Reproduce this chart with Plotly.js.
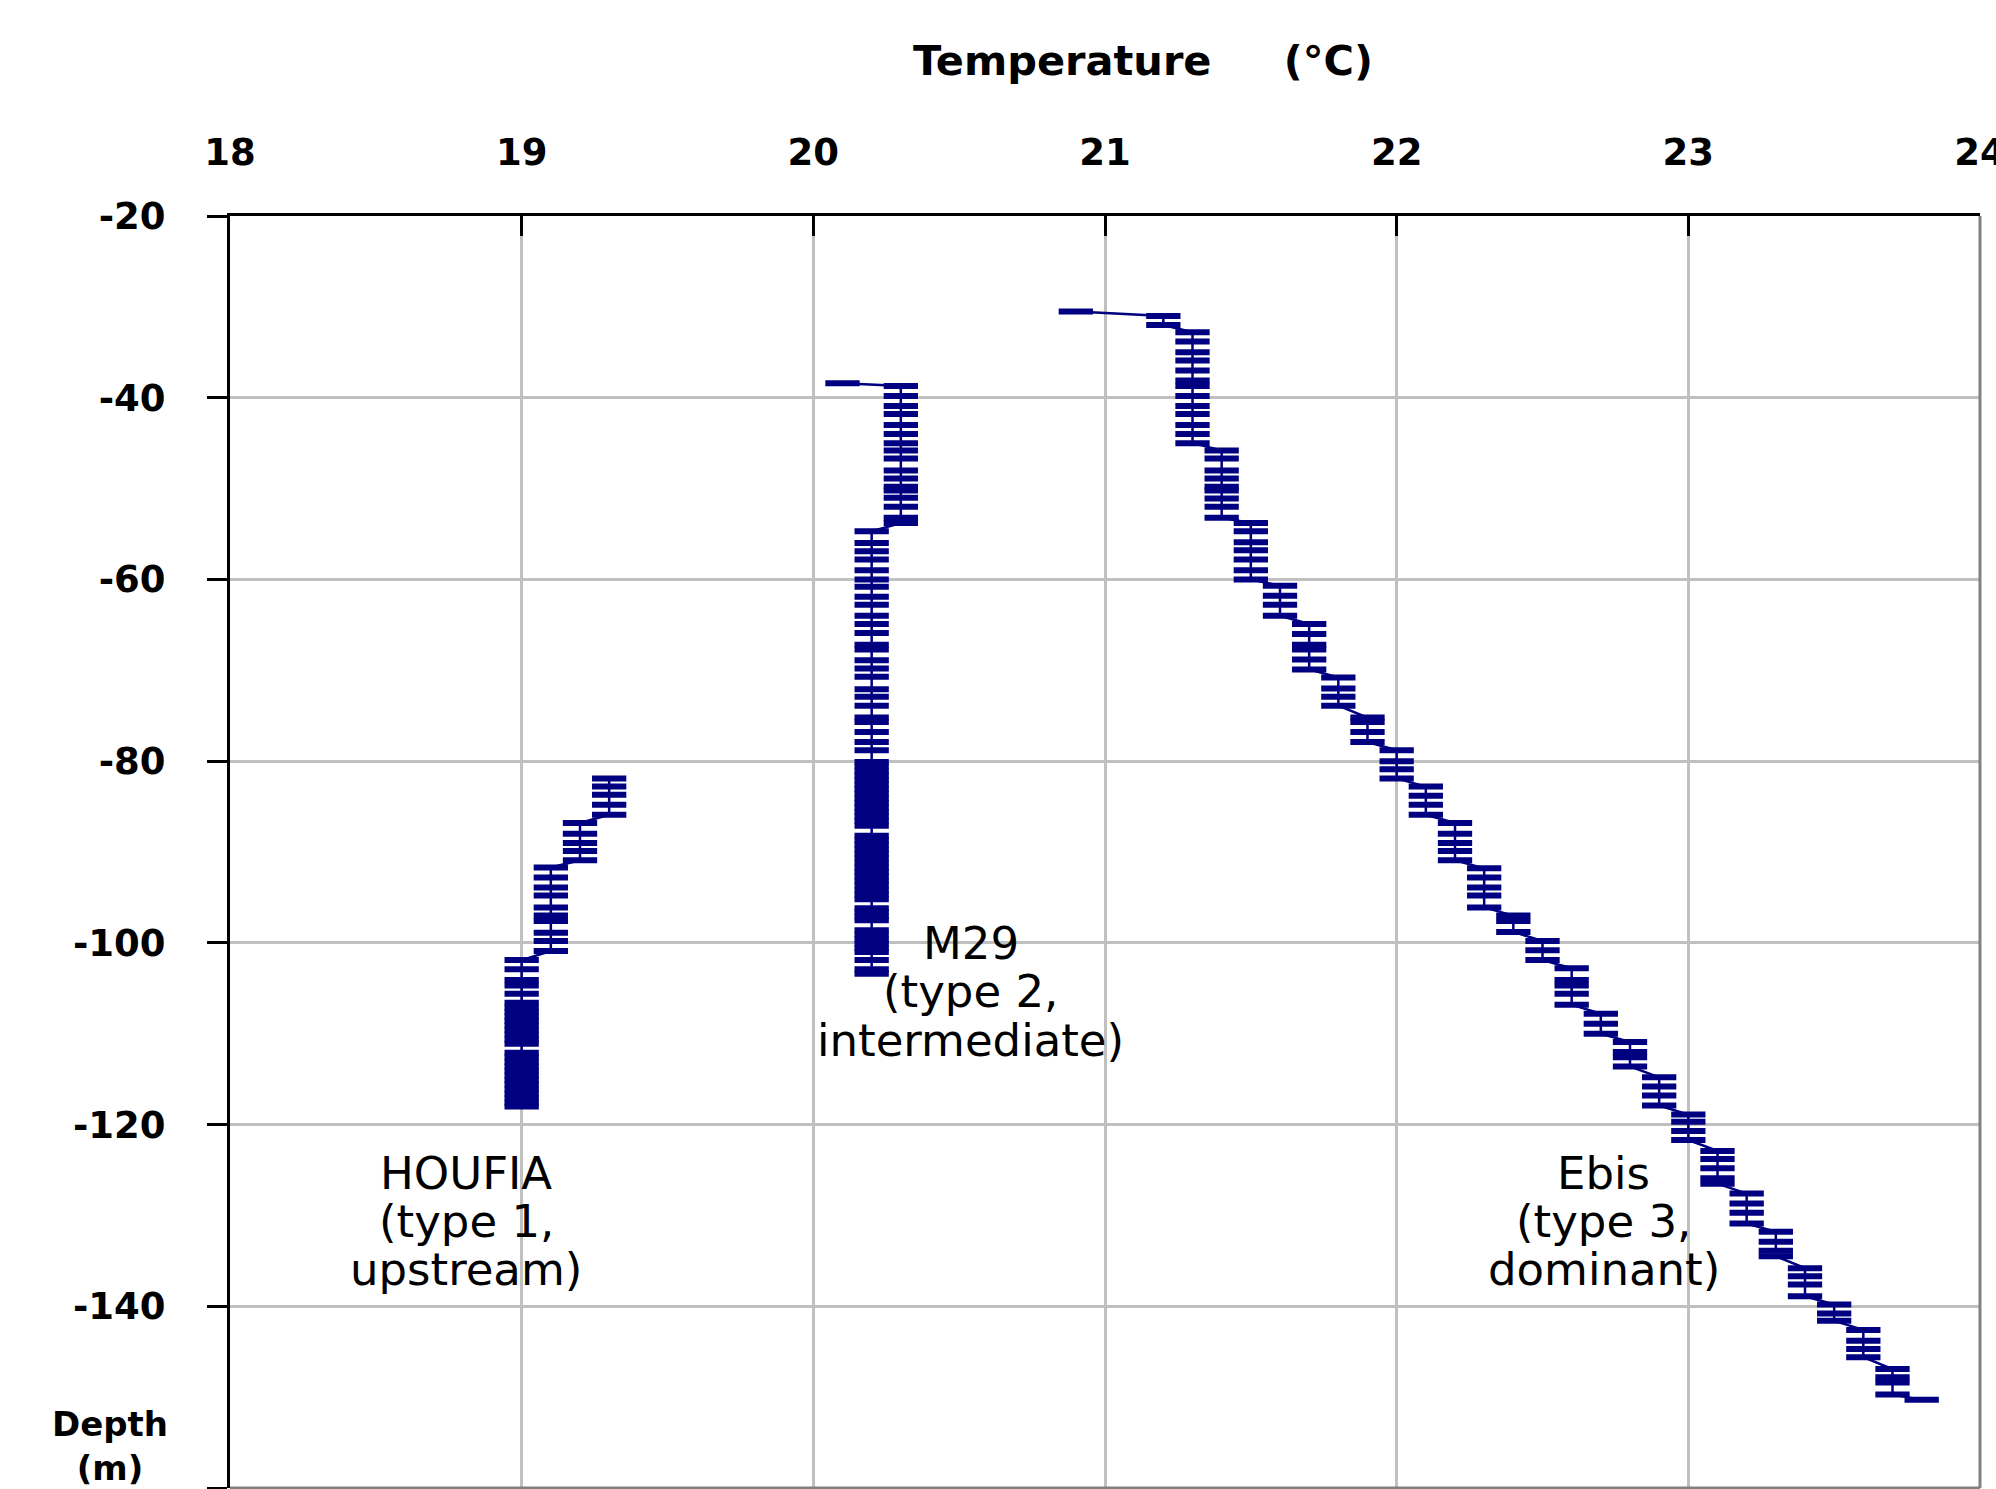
<!DOCTYPE html>
<html>
<head>
<meta charset="utf-8">
<script src="https://cdn.plot.ly/plotly-3.0.1.min.js"></script>
<style>
  html, body { margin: 0; padding: 0; background: #ffffff; }
  #chart { width: 1996px; height: 1489px; }
</style>
</head>
<body>
<div id="chart"></div>
<script>
// ---------------- data (temperature in °C, depth in m) ----------------
const houfiaTemp = [
  19.3, 19.3, 19.3, 19.3, 19.3,
  19.2, 19.2, 19.2, 19.2, 19.2,
  19.1, 19.1, 19.1, 19.1, 19.1, 19.1, 19.1, 19.1, 19.1, 19.1,
  19.0, 19.0, 19.0, 19.0, 19.0,
  19.0, 19.0, 19.0, 19.0, 19.0, 19.0, 19.0, 19.0, 19.0, 19.0,
  19.0, 19.0, 19.0, 19.0, 19.0, 19.0, 19.0, 19.0, 19.0, 19.0, 19.0, 19.0, 19.0
];
const houfiaDepth = [
  -81.9, -82.8, -83.7, -84.8, -85.9,
  -86.8, -88.0, -89.0, -89.9, -90.9,
  -91.7, -92.8, -93.9, -94.8, -96.1, -97.0, -97.6, -98.9, -99.8, -100.9,
  -101.9, -102.9, -104.1, -104.7, -105.6,
  -106.6, -107.1, -107.6, -108.1, -108.6, -109.1, -109.6, -110.1, -110.6, -111.1,
  -112.1, -112.6, -113.1, -113.6, -114.1, -114.6, -115.1, -115.6, -116.1, -116.6, -117.1, -117.6, -118.0
];

const m29Temp = [
  20.1,
  20.3, 20.3, 20.3, 20.3, 20.3, 20.3, 20.3, 20.3, 20.3, 20.3, 20.3, 20.3, 20.3, 20.3, 20.3, 20.3, 20.3,
  20.2, 20.2, 20.2, 20.2, 20.2, 20.2, 20.2, 20.2, 20.2, 20.2, 20.2, 20.2, 20.2, 20.2, 20.2, 20.2, 20.2,
  20.2, 20.2, 20.2, 20.2, 20.2, 20.2, 20.2, 20.2,
  20.2, 20.2, 20.2, 20.2, 20.2, 20.2, 20.2, 20.2, 20.2, 20.2, 20.2, 20.2, 20.2, 20.2, 20.2,
  20.2, 20.2, 20.2, 20.2, 20.2, 20.2, 20.2, 20.2, 20.2, 20.2, 20.2, 20.2, 20.2, 20.2, 20.2,
  20.2, 20.2, 20.2, 20.2,
  20.2, 20.2, 20.2, 20.2, 20.2, 20.2,
  20.2, 20.2, 20.2
];
const m29Depth = [
  -38.4,
  -38.7, -39.8, -40.9, -41.8, -43.0, -44.0, -45.0, -45.8, -46.7, -48.0, -48.9, -49.8, -50.2, -51.0, -52.0, -53.2, -53.8,
  -54.7, -56.0, -56.9, -57.8, -59.0, -60.0, -60.8, -61.9, -62.8, -64.0, -64.9, -65.9, -67.2, -67.7, -68.9, -69.8, -70.7,
  -72.1, -72.9, -73.9, -75.2, -75.7, -76.8, -77.9, -78.8,
  -80.1, -80.6, -81.1, -81.6, -82.1, -82.6, -83.1, -83.6, -84.1, -84.6, -85.1, -85.6, -86.1, -86.6, -87.1,
  -88.2, -88.7, -89.2, -89.7, -90.2, -90.7, -91.2, -91.7, -92.2, -92.7, -93.2, -93.7, -94.2, -94.7, -95.2,
  -96.2, -96.6, -97.1, -97.5,
  -98.6, -99.1, -99.6, -100.1, -100.6, -101.0,
  -101.9, -102.9, -103.4
];

const ebisTemp = [
  20.9,
  21.2, 21.2,
  21.3, 21.3, 21.3, 21.3, 21.3, 21.3, 21.3, 21.3, 21.3, 21.3, 21.3, 21.3, 21.3,
  21.4, 21.4, 21.4, 21.4, 21.4, 21.4, 21.4, 21.4, 21.4,
  21.5, 21.5, 21.5, 21.5, 21.5, 21.5, 21.5,
  21.6, 21.6, 21.6, 21.6,
  21.7, 21.7, 21.7, 21.7, 21.7, 21.7,
  21.8, 21.8, 21.8, 21.8,
  21.9, 21.9, 21.9, 21.9,
  22.0, 22.0, 22.0, 22.0,
  22.1, 22.1, 22.1, 22.1,
  22.2, 22.2, 22.2, 22.2, 22.2,
  22.3, 22.3, 22.3, 22.3, 22.3,
  22.4, 22.4, 22.4,
  22.5, 22.5, 22.5,
  22.6, 22.6, 22.6, 22.6, 22.6,
  22.7, 22.7, 22.7,
  22.8, 22.8, 22.8, 22.8,
  22.9, 22.9, 22.9, 22.9,
  23.0, 23.0, 23.0, 23.0,
  23.1, 23.1, 23.1, 23.1, 23.1,
  23.2, 23.2, 23.2, 23.2,
  23.3, 23.3, 23.3, 23.3,
  23.4, 23.4, 23.4, 23.4,
  23.5, 23.5, 23.5,
  23.6, 23.6, 23.6, 23.6,
  23.7, 23.7, 23.7, 23.7,
  23.8
];
const ebisDepth = [
  -30.5,
  -31.0, -32.0,
  -32.8, -33.8, -35.0, -35.9, -37.0, -38.1, -38.7, -39.8, -40.9, -41.8, -43.0, -44.0, -45.0,
  -45.8, -46.7, -48.0, -48.9, -49.8, -50.2, -51.1, -52.0, -53.2,
  -53.8, -54.7, -55.9, -56.8, -57.8, -59.0, -60.0,
  -60.7, -61.8, -62.8, -64.0,
  -64.9, -66.0, -67.2, -67.7, -68.8, -69.9,
  -70.8, -72.0, -72.9, -73.9,
  -75.2, -75.7, -76.8, -77.9,
  -78.8, -80.0, -80.9, -81.9,
  -82.8, -83.8, -84.8, -85.9,
  -86.8, -88.0, -89.0, -89.9, -90.9,
  -91.8, -92.8, -93.9, -94.8, -96.1,
  -97.0, -97.6, -98.8,
  -99.8, -100.8, -101.9,
  -102.8, -104.1, -104.7, -105.6, -106.8,
  -107.8, -108.9, -110.0,
  -110.9, -112.0, -112.6, -113.6,
  -114.8, -115.8, -116.8, -117.9,
  -118.9, -119.7, -120.7, -121.7,
  -122.9, -123.8, -124.8, -125.9, -126.5,
  -127.6, -128.7, -129.7, -130.9,
  -131.8, -132.9, -133.9, -134.5,
  -135.8, -136.7, -137.6, -138.9,
  -139.8, -140.8, -141.6,
  -142.6, -143.8, -144.7, -145.6,
  -146.9, -147.8, -148.4, -149.7,
  -150.3
];

const seriesNames = ['HOUFIA', 'M29', 'Ebis'];
const labelLines = {
  HOUFIA: ['HOUFIA', '(type 1,', 'upstream)'],
  M29: ['M29', '(type 2,', 'intermediate)'],
  Ebis: ['Ebis', '(type 3,', 'dominant)']
};

const xTickVals = [18, 19, 20, 21, 22, 23, 24];
const xTickText = ['18', '19', '20', '21', '22', '23', '24'];
const yTickVals = [-20, -40, -60, -80, -100, -120, -140, -160];
const yTickText = ['-20', '-40', '-60', '-80', '-100', '-120', '-140', ''];

const xTitle = 'Temperature\u00A0\u00A0\u00A0\u00A0\u00A0(°C)';
const yTitle = 'Depth<br>(m)';

// ---------------- styling ----------------
const NAVY = '#000080';
const FONT = 'DejaVu Sans, Verdana, Arial, sans-serif';

function profileTrace(name, x, y) {
  return {
    type: 'scatter',
    mode: 'lines+markers',
    name: name,
    x: x,
    y: y,
    line: { color: NAVY, width: 2.5 },
    marker: {
      symbol: 'line-ew',
      size: 24.5,
      color: NAVY,
      line: { color: NAVY, width: 6 }
    },
    hoverinfo: 'x+y+name'
  };
}

const traces = [
  profileTrace(seriesNames[0], houfiaTemp, houfiaDepth),
  profileTrace(seriesNames[1], m29Temp, m29Depth),
  profileTrace(seriesNames[2], ebisTemp, ebisDepth)
];

// label placement (data coordinates for centre of each text line)
const labelPos = {
  HOUFIA: { x: 18.81, y: [-125.4, -130.7, -135.9] },
  M29: { x: 20.54, y: [-100.1, -105.4, -110.7] },
  Ebis: { x: 22.71, y: [-125.4, -130.7, -135.9] }
};

const annotations = [];
seriesNames.forEach(function (n) {
  labelLines[n].forEach(function (t, i) {
    annotations.push({
      xref: 'x', yref: 'y',
      x: labelPos[n].x, y: labelPos[n].y[i],
      text: t, showarrow: false,
      xanchor: 'center', yanchor: 'middle',
      font: { family: FONT, size: 45, color: '#000000' }
    });
  });
});

annotations.push({
  xref: 'paper', yref: 'paper',
  x: 0.5217, y: 1.1219,
  text: xTitle, showarrow: false,
  xanchor: 'center', yanchor: 'middle',
  font: { family: FONT, size: 41.5, color: '#000000', weight: 'bold' }
});
annotations.push({
  xref: 'paper', yref: 'paper',
  x: -0.0686, y: 0.033,
  text: yTitle, showarrow: false,
  xanchor: 'center', yanchor: 'middle',
  font: { family: FONT, size: 34, color: '#000000', weight: 'bold' }
});

const layout = {
  width: 1996,
  height: 1489,
  margin: { l: 230, r: 16, t: 216, b: 1, pad: 0 },
  paper_bgcolor: '#ffffff',
  plot_bgcolor: '#ffffff',
  showlegend: false,
  xaxis: {
    side: 'top',
    range: [18, 24],
    tickmode: 'array',
    tickvals: xTickVals,
    ticktext: xTickText,
    ticks: 'inside',
    ticklen: 20,
    tickwidth: 3,
    tickcolor: '#000000',
    showline: true,
    linecolor: '#000000',
    linewidth: 3,
    showgrid: true,
    gridcolor: '#c0c0c0',
    gridwidth: 3,
    zeroline: false,
    ticklabelstandoff: 33,
    ticklabeloverflow: 'allow',
    tickfont: { family: FONT, size: 37, color: '#000000', weight: 'bold' }
  },
  yaxis: {
    range: [-160, -20],
    tickmode: 'array',
    tickvals: yTickVals,
    ticktext: yTickText,
    ticks: 'outside',
    ticklen: 20,
    tickwidth: 3,
    tickcolor: '#000000',
    showline: true,
    linecolor: '#000000',
    linewidth: 3,
    showgrid: true,
    gridcolor: '#c0c0c0',
    gridwidth: 3,
    zeroline: false,
    ticklabelstandoff: 34,
    tickfont: { family: FONT, size: 37, color: '#000000', weight: 'bold' }
  },
  shapes: [
    { type: 'line', xref: 'paper', yref: 'paper', x0: 1, x1: 1, y0: 0, y1: 1,
      line: { color: '#808080', width: 3 }, layer: 'above' },
    { type: 'line', xref: 'paper', yref: 'paper', x0: 0, x1: 1, y0: 0, y1: 0,
      line: { color: '#808080', width: 3 }, layer: 'above' }
  ],
  annotations: annotations
};

Plotly.newPlot('chart', traces, layout, { displayModeBar: false, staticPlot: true });
</script>
</body>
</html>
